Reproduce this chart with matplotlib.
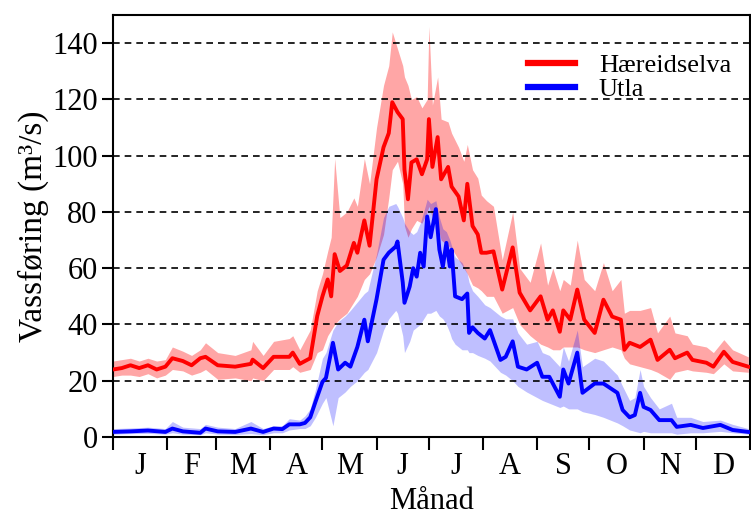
import numpy as np
import matplotlib
matplotlib.use('Agg')
import matplotlib.pyplot as plt

### DATA ###
months = ['J', 'F', 'M', 'A', 'M', 'J', 'J', 'A', 'S', 'O', 'N', 'D']
month_days = [31, 28, 31, 30, 31, 30, 31, 31, 30, 31, 30, 31]

# Hæreidselva: day of year, mean and band (low / high)
red_days = [0, 5, 10, 15, 20, 25, 30, 34, 40, 45, 50, 53, 60, 70, 79, 80, 86, 92, 101, 103,
            107, 113, 117, 120, 123, 125, 127, 130, 134, 138, 140, 144, 147, 151, 155, 158,
            160, 163, 166, 167, 169, 171, 174, 177, 180, 181, 183, 186, 188, 192, 194, 198,
            201, 203, 206, 209, 211, 214, 218, 223, 229, 233, 239, 245, 249, 252, 256, 258,
            262, 266, 270, 276, 281, 286, 291, 293, 296, 302, 308, 312, 319, 322, 329, 332,
            340, 344, 350, 355, 364]
red_mean = [24, 24.5, 25.5, 24.5, 25.5, 24, 25, 28, 27, 25.5, 28, 28.5, 25.5, 25, 26, 27.5, 24.5, 28.5, 28.5, 30,
            26, 28, 43, 50, 56, 50, 65, 59, 61, 69, 65.5, 77, 68, 91.6, 103, 108,
            119, 115.5, 113, 95, 84.5, 97.6, 98.7, 93.4, 98.7, 113, 96, 106.6, 91.6, 96, 89, 85.5,
            77, 90, 75, 72, 65.5, 65.5, 66, 52.4, 67.4, 51.3, 45, 50, 41.7, 45, 37.4, 45,
            41.7, 52.4, 41.7, 37, 48.8, 42.8, 41.7, 31, 33.5, 32, 34.6, 27.4, 31, 28, 30, 27.4,
            26.4, 25, 30.3, 26.7, 25]
red_lo = [21.5, 22, 22, 21.5, 22.5, 21, 22, 24, 23.5, 22, 23, 24, 20.5, 21, 20, 21, 20, 24, 24, 25,
          23, 24, 30, 31, 36, 38, 40, 42, 44, 48, 50, 56, 58, 64, 72, 85,
          95, 98, 90, 75, 71, 74, 77, 76, 80, 82, 78, 75, 70, 68, 67, 63,
          60, 58, 54, 53, 52, 50, 50, 44, 46, 40, 36, 33, 32, 31, 31, 32,
          32, 32, 31, 30, 31, 32, 31, 28, 26, 25, 24, 23, 20.5, 23, 24, 23.5,
          23, 22.5, 26, 23.5, 23]
red_hi = [27, 27.5, 28, 27, 28, 27, 27.5, 32, 30.5, 29, 31, 33.5, 30, 29, 31, 34, 29, 34, 35, 36,
          31, 38, 52, 58, 66, 71, 99, 78, 80, 85, 82, 99, 90, 110, 125, 132,
          144, 138, 132, 128, 125, 120, 121, 117, 120, 146, 118, 128, 113, 112, 108, 103,
          98, 104, 95, 92, 86, 84, 82, 63, 80, 60, 55, 69, 54, 60, 52, 56,
          54, 70, 56, 52, 62, 52, 56, 44, 45, 45, 46, 37, 43, 37, 36, 33,
          32, 30, 34.6, 31, 28.5]

# Utla
blue_days = [0, 10, 20, 30, 34, 40, 50, 53, 60, 70, 79, 86, 92, 97, 101, 107, 110, 113, 116, 120,
             122, 126, 129, 133, 136, 140, 144, 146, 151, 155, 158, 162, 163, 166, 167, 170,
             172, 174, 176, 178, 180, 182, 185, 187, 189, 191, 193, 194, 196, 200, 203, 204,
             206, 209, 213, 216, 222, 225, 229, 232, 237, 243, 246, 250, 256, 258, 261, 266,
             269, 276, 281, 289, 292, 296, 299, 302, 304, 308, 313, 320, 323, 331, 338, 348,
             355, 364]
blue_mean = [1.8, 2, 2.3, 1.8, 3, 2, 1.5, 3, 2, 1.8, 3, 1.8, 3, 2.8, 4.5, 4.5, 5, 7, 12.5, 19.6,
             21, 33.5, 24, 26.4, 25, 32, 41.7, 34, 49, 63, 65.5, 67.7, 69.5, 55, 47.7, 53.5,
             60, 57, 65.5, 60.6, 78.4, 71, 81, 66.6, 60.6, 69, 60.6, 66.6, 50, 49, 51, 37,
             39, 37, 35, 38, 27.4, 28.5, 34, 25, 24, 26.4, 21.4, 21.4, 14.3, 24, 19, 30,
             15.7, 19, 19, 15.7, 9.6, 7, 7.8, 15.7, 10.7, 9.6, 6, 6, 3.6, 4.3, 3.2, 4.3,
             2.5, 1.8]
blue_lo = [1, 1.2, 1.3, 1, 1.5, 1, 0.8, 1.5, 1, 0.9, 1.2, 0.8, 1.5, 1.5, 2.5, 3, 3, 4, 7, 12,
           14, 4, 14, 16, 18, 20, 23, 24, 30, 38, 42, 45, 44, 36, 30, 34,
           38, 39, 40, 42, 44, 44, 45, 43, 42, 40, 37, 35, 33, 31, 31, 30,
           30, 29, 28, 27, 23, 22, 20, 18, 16, 14, 13, 12, 10.5, 11, 10, 10,
           9, 8, 7, 5, 4, 2.5, 2, 1.5, 2, 1.5, 1.5, 1.5, 1, 1.5, 1.5, 2,
           1.5, 1]
blue_hi = [3, 3.2, 3.5, 3, 5.5, 3.5, 3, 4.5, 3.5, 3, 5.5, 3, 4, 4, 6.5, 6, 7.5, 10, 17, 28,
           30, 38, 41, 43, 45, 48, 51, 52, 65, 78, 82, 83, 82, 78, 76, 73,
           72, 73, 76, 80, 84.5, 83, 84, 78, 74, 73, 70, 68, 64, 62, 58, 55,
           52, 50, 47, 46, 43, 42, 42, 37, 33, 34, 30, 29, 25, 32, 27, 38,
           25, 28, 27, 22, 18, 13, 14, 24, 18, 14, 10, 12, 7, 7, 5.5, 6,
           4.5, 3]

### PLOT ###
plt.rcParams['font.family'] = ['Liberation Serif', 'DejaVu Serif']

fig = plt.figure(figsize=(7.51, 5.16), dpi=100)
ax = fig.add_axes([0.1505, 0.1531, 0.8482, 0.8178])

ax.fill_between(red_days, red_lo, red_hi, color='#ff0000', alpha=0.35, lw=0)
ax.fill_between(blue_days, blue_lo, blue_hi, color='#0000ff', alpha=0.25, lw=0)
ax.plot(red_days, red_mean, color='#ff0000', lw=2.8, label='Hæreidselva', zorder=3)
ax.plot(blue_days, blue_mean, color='#0000ff', lw=2.8, label='Utla', zorder=3)

# dashed grid lines
for yv in range(20, 141, 20):
    ax.axhline(yv, color='black', lw=1.2, linestyle=(0, (4, 3)), zorder=1)

ax.set_xlim(0, 365)
ax.set_ylim(0, 150)

bounds = np.cumsum([0] + month_days)
mids = (bounds[:-1] + bounds[1:]) / 2
ax.set_xticks(mids)
ax.set_xticklabels(months)
ax.set_xticks(bounds, minor=True)
ax.tick_params(axis='x', which='major', length=0, pad=11, labelsize=22)
ax.tick_params(axis='x', which='minor', length=9, width=1.5, direction='out')
ax.set_yticks(range(0, 141, 20))
ax.tick_params(axis='y', length=8, width=1.5, pad=3, labelsize=22)

for sp in ax.spines.values():
    sp.set_linewidth(1.5)

ax.set_xlabel('Månad', fontsize=22, labelpad=4)
ax.set_ylabel('Vassføring (m³/s)', fontsize=24, labelpad=2)

leg = ax.legend(loc='upper left', bbox_to_anchor=(0.651, 0.908), frameon=False,
                fontsize=19, handlelength=1.8, handletextpad=0.9, labelspacing=0.0,
                borderpad=0, borderaxespad=0)
for line in leg.get_lines():
    line.set_linewidth(4.5)

fig.savefig('out.png', dpi=100)
